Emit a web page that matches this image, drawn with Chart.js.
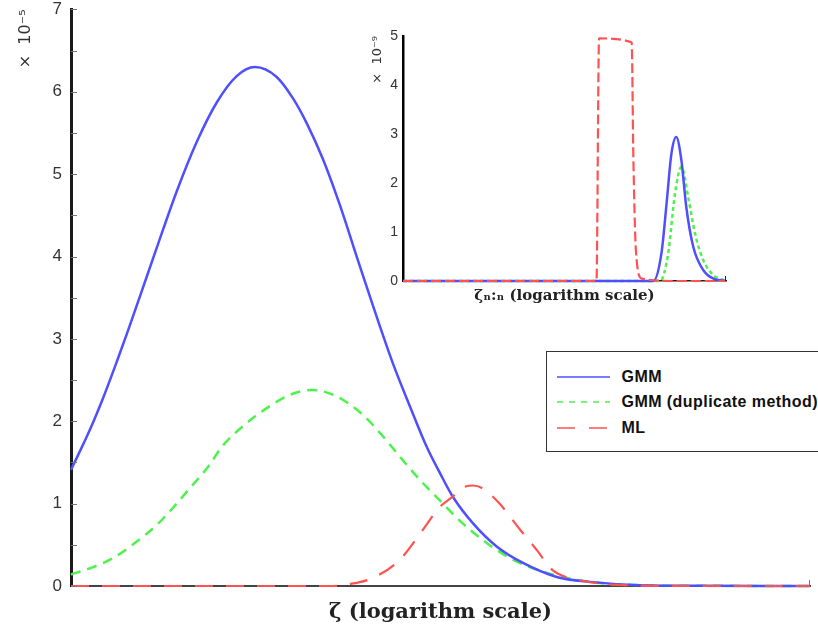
<!DOCTYPE html>
<html>
<head>
<meta charset="utf-8">
<script src="https://cdn.jsdelivr.net/npm/chart.js@4.4.0/dist/chart.umd.min.js"></script>
<style>
body { margin: 0; background: #fff; overflow: hidden; }
#wrap { position: relative; width: 818px; height: 634px; overflow: hidden; }
#mainChart { position: absolute; left: 0; top: 0; }
#insetChart { position: absolute; left: 360px; top: 20px; }
#legend { position: absolute; left: 546px; top: 351px; width: 300px; height: 99px;
  border: 1.5px solid #333; background: #fff;
  font: bold 16px "Liberation Sans", Arial, sans-serif; letter-spacing: 0.45px; color: #111; }
.row { position: absolute; left: 0; height: 20px; display: flex; align-items: center; white-space: nowrap; }
.row svg { margin-left: 9.5px; }
.row span { margin-left: 12px; }
</style>
</head>
<body>
<div id="wrap">
  <canvas id="mainChart" width="818" height="634"></canvas>
  <canvas id="insetChart" width="380" height="290"></canvas>
  <div id="legend"></div>
</div>
<script>
// Series labels
var seriesLabels = ['GMM', 'GMM (duplicate method)', 'ML'];

// Main chart: zeta position (0..100 across the axis) and density values (x 10^-5)
var gmmX = [0, 2.57, 4.33, 6.18, 7.75, 9.34, 11.81, 14.30, 17.01, 19.72, 22.42, 24.90, 27.83, 30.04, 31.89, 34.10, 36.40, 38.66, 40.87, 43.57, 45.87, 48.13, 49.93, 51.69, 54.40, 57.60, 61.16, 65.72, 70.23, 77.0, 85, 100];
var gmmY = [1.41, 1.90, 2.28, 2.72, 3.11, 3.52, 4.16, 4.79, 5.39, 5.87, 6.19, 6.30, 6.18, 5.92, 5.62, 5.18, 4.62, 4.00, 3.40, 2.70, 2.18, 1.69, 1.37, 1.08, 0.76, 0.48, 0.28, 0.11, 0.05, 0.01, 0.003, 0];

var dupX = [0, 3.0, 5.7, 8.9, 11.6, 13.8, 16.1, 18.4, 20.6, 23.8, 26.5, 29.6, 32.6, 35.5, 39.1, 41.8, 44.5, 47.2, 49.9, 53.0, 56.3, 59.8, 64.4, 70.2, 77.0, 85, 100];
var dupY = [0.14, 0.23, 0.34, 0.54, 0.74, 0.95, 1.19, 1.43, 1.71, 1.98, 2.16, 2.32, 2.38, 2.32, 2.11, 1.86, 1.57, 1.29, 1.04, 0.76, 0.52, 0.32, 0.16, 0.05, 0.01, 0.003, 0];

var mlX = [0, 10, 20, 30, 35.5, 37.5, 40.9, 44.5, 47.6, 49.9, 51.3, 53.5, 54.4, 55.6, 57.8, 60.8, 63.0, 65.2, 68.9, 74.7, 85, 100];
var mlY = [0, 0, 0, 0, 0, 0.02, 0.10, 0.32, 0.68, 0.96, 1.06, 1.21, 1.22, 1.19, 1.02, 0.68, 0.44, 0.19, 0.07, 0.01, 0, 0];

// Inset: zeta_{n:n} position (0..100) and density values (x 10^-9)
var insetGmmX = [0, 40, 77.5, 80.0, 81.6, 83.1, 84.6, 86.2, 87.7, 89.9, 93.0, 96.1, 100];
var insetGmmY = [0, 0, 0, 0.56, 1.58, 2.60, 2.94, 2.46, 1.51, 0.69, 0.22, 0.05, 0];

var insetDupX = [0, 40, 79.6, 82.1, 84.2, 86.2, 88.3, 90.4, 93.0, 96.1, 99.2, 100];
var insetDupY = [0, 0, 0, 0.56, 1.78, 2.33, 1.71, 0.97, 0.42, 0.12, 0.02, 0];

var insetMlX = [0, 30, 59.9, 60.7, 70.8, 71.3, 72.1, 73.9, 85, 100];
var insetMlY = [0, 0, 0, 4.95, 4.87, 2.6, 0.63, 0.05, 0, 0];

// Colors and legend dash patterns
var colors = ['#4f4fff', '#4df24d', '#ff5252'];
var legendDash = ['', '6,6', '18,14'];

function toPoints(xs, ys) {
    return xs.map(function(x, i) { return {x: x, y: ys[i]}; });
}

// Short ticks drawn inside the plot area, plus the end tick on the x axis
var inwardTicks = {
    id: 'inwardTicks',
    afterDatasetsDraw: function(chart, args, opts) {
        var ctx = chart.ctx, area = chart.chartArea, yScale = chart.scales.y;
        ctx.save();
        ctx.strokeStyle = opts.color;
        ctx.lineWidth = 1;
        ctx.beginPath();
        if (opts.yTicks) {
            yScale.ticks.forEach(function(t) {
                var py = Math.round(yScale.getPixelForValue(t.value)) + 0.5;
                ctx.moveTo(area.left, py);
                ctx.lineTo(area.left + opts.len, py);
            });
        }
        ctx.moveTo(area.right - 0.5, area.bottom);
        ctx.lineTo(area.right - 0.5, area.bottom - opts.len);
        ctx.stroke();
        ctx.restore();
    }
};

var sansFont = '"Liberation Sans", Arial, sans-serif';
var labelFont = '"DejaVu Sans", sans-serif';

// Main chart
var mainChart = new Chart(document.getElementById('mainChart'), {
    type: 'line',
    data: {
        datasets: [
            { label: seriesLabels[0], data: toPoints(gmmX, gmmY), borderColor: colors[0], borderWidth: 2.5, order: 1, clip: false },
            { label: seriesLabels[1], data: toPoints(dupX, dupY), borderColor: colors[1], borderWidth: 2.5, borderDash: [10, 7], order: 2, clip: false },
            { label: seriesLabels[2], data: toPoints(mlX, mlY), borderColor: colors[2], borderWidth: 2.2, borderDash: [18, 13], order: 0, clip: false }
        ]
    },
    options: {
        responsive: false,
        animation: false,
        layout: { padding: { top: 0, right: 8, bottom: 0, left: 0 } },
        elements: { point: { radius: 0 }, line: { cubicInterpolationMode: 'monotone', fill: false } },
        plugins: {
            legend: { display: false },
            tooltip: { enabled: false },
            inwardTicks: { color: '#777', len: 6, yTicks: true }
        },
        scales: {
            x: {
                type: 'linear', min: 0, max: 100,
                afterFit: function(s) { s.height = 48; },
                ticks: { display: false },
                grid: { display: false, drawTicks: false },
                border: { color: '#444', width: 2 },
                title: {
                    display: true, text: 'ζ (logarithm scale)', color: '#222',
                    font: { family: '"DejaVu Serif", serif', size: 21, weight: 'bold' },
                    padding: { top: 0, bottom: 9 }
                }
            },
            y: {
                min: 0, max: 7,
                afterFit: function(s) { s.width = 71; },
                ticks: {
                    stepSize: 0.5, autoSkip: false, padding: 9, color: '#333',
                    font: { family: sansFont, size: 17, lineHeight: 0.05 },
                    callback: function(v) { return v % 1 === 0 ? v : ''; }
                },
                grid: { display: false, drawTicks: false },
                border: { color: '#1a1a1a', width: 3 },
                title: {
                    display: true, text: '×  10⁻⁵', align: 'end', color: '#333',
                    font: { family: labelFont, size: 16 },
                    padding: { top: 16, bottom: 0 }
                }
            }
        }
    },
    plugins: [inwardTicks]
});

// Inset chart
var insetChart = new Chart(document.getElementById('insetChart'), {
    type: 'line',
    data: {
        datasets: [
            { label: seriesLabels[0], data: toPoints(insetGmmX, insetGmmY), borderColor: colors[0], borderWidth: 2.5, order: 1, clip: false },
            { label: seriesLabels[1], data: toPoints(insetDupX, insetDupY), borderColor: colors[1], borderWidth: 2.5, borderDash: [4, 3], order: 2, clip: false },
            { label: seriesLabels[2], data: toPoints(insetMlX, insetMlY), borderColor: colors[2], borderWidth: 2.2, borderDash: [10, 4], order: 0, clip: false }
        ]
    },
    options: {
        responsive: false,
        animation: false,
        layout: { padding: { top: 16, right: 14, bottom: 0, left: 0 } },
        elements: { point: { radius: 0 }, line: { cubicInterpolationMode: 'monotone', fill: false } },
        plugins: {
            legend: { display: false },
            tooltip: { enabled: false },
            inwardTicks: { color: '#222', len: 5, yTicks: false }
        },
        scales: {
            x: {
                type: 'linear', min: 0, max: 100,
                afterFit: function(s) { s.height = 29; },
                ticks: { display: false },
                grid: { display: false, drawTicks: false },
                border: { color: '#222', width: 1.5 },
                title: {
                    display: true, text: 'ζₙ:ₙ (logarithm scale)', color: '#222',
                    font: { family: '"DejaVu Serif", serif', size: 15, weight: 'bold' },
                    padding: { top: 0, bottom: 4.6 }
                }
            },
            y: {
                min: 0, max: 5,
                afterFit: function(s) { s.width = 43; },
                ticks: { stepSize: 1, padding: 5, color: '#333', font: { family: sansFont, size: 14, lineHeight: 1 } },
                grid: { display: false, drawTicks: false },
                border: { color: '#000', width: 2.5 },
                title: {
                    display: true, text: '×  10⁻⁹', align: 'end', color: '#333',
                    font: { family: labelFont, size: 13 },
                    padding: { top: 10, bottom: 0 }
                }
            }
        }
    },
    plugins: [inwardTicks]
});

// Legend box built from the main chart's datasets
var legend = document.getElementById('legend');
var rowTops = [14.5, 39.5, 65.5];
mainChart.data.datasets.forEach(function(ds, i) {
    var row = document.createElement('div');
    row.className = 'row';
    row.style.top = rowTops[i] + 'px';
    row.innerHTML = '<svg width="53" height="4"><line x1="0" y1="2" x2="53" y2="2" stroke="' + ds.borderColor +
        '" stroke-width="1.3"' + (legendDash[i] ? ' stroke-dasharray="' + legendDash[i] + '"' : '') + '/></svg>';
    var span = document.createElement('span');
    span.textContent = ds.label;
    row.appendChild(span);
    legend.appendChild(row);
});
</script>
</body>
</html>
